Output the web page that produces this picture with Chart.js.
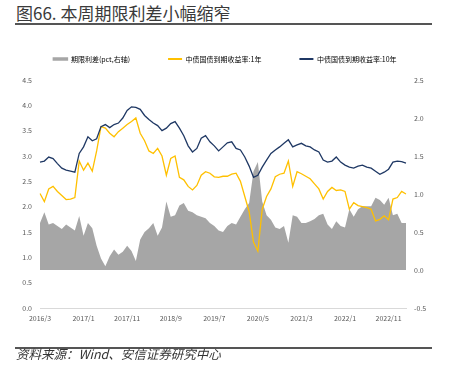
<!DOCTYPE html>
<html>
<head>
<meta charset="utf-8">
<script src="https://cdn.jsdelivr.net/npm/chart.js@4.4.0/dist/chart.umd.min.js"></script>
<style>
    body { margin: 0; background: #fff; }
    #wrap { position: relative; width: 450px; height: 378px; overflow: hidden; font-family: "Noto Sans CJK SC", sans-serif; }
    .title { position: absolute; left: 16px; top: 3px; font-size: 17px; line-height: 20px; color: #3a3a3a; }
    .rule { position: absolute; left: 15px; width: 417px; height: 2px; background: #555; }
    .src { position: absolute; left: 16px; top: 346px; font-size: 12.5px; line-height: 16px; font-style: italic; color: #333; }
    canvas { position: absolute; left: 0; top: 0; }
</style>
</head>
<body>
<div id="wrap">
    <div class="title">图66. 本周期限利差小幅缩窄</div>
    <div class="rule" style="top:23px"></div>
    <canvas id="myChart" width="450" height="378"></canvas>
    <div class="rule" style="top:347px"></div>
    <div class="src">资料来源：Wind、安信证券研究中心</div>
</div>
<script>
'use strict'

// monthly points, 2016/3 .. 2023/3
var months = [];
for (var yr = 2016, mo = 3; months.length < 85; mo++) {
    if (mo > 12) { mo = 1; yr++; }
    months.push(yr + '/' + mo);
}

var tickLabels = ['2016/3', '2017/1', '2017/11', '2018/9', '2019/7', '2020/5', '2021/3', '2022/1', '2022/11'];

// 中债国债到期收益率:10年
var y10 = [2.88, 2.90, 2.98, 2.95, 2.85, 2.76, 2.72, 2.70, 2.68, 3.05,
    3.18, 3.38, 3.30, 3.34, 3.58, 3.62, 3.56, 3.62, 3.65, 3.75,
    3.90, 3.97, 3.96, 3.92, 3.80, 3.72, 3.65, 3.60, 3.50, 3.55,
    3.64, 3.68, 3.55, 3.40, 3.20, 3.08, 3.15, 3.35, 3.40, 3.28,
    3.20, 3.10, 3.18, 3.26, 3.28, 3.15, 3.12, 2.98, 2.80, 2.58,
    2.62, 2.78, 2.92, 3.05, 3.12, 3.18, 3.25, 3.32, 3.18, 3.22,
    3.25, 3.20, 3.18, 3.12, 3.08, 2.92, 2.88, 2.90, 2.98, 2.88,
    2.82, 2.78, 2.76, 2.80, 2.82, 2.78, 2.76, 2.70, 2.64, 2.68,
    2.74, 2.88, 2.90, 2.89, 2.86];

// 中债国债到期收益率:1年
var y1 = [2.26, 2.10, 2.35, 2.40, 2.30, 2.22, 2.14, 2.15, 2.18, 2.90,
    2.72, 2.86, 2.70, 3.10, 3.58, 3.55, 3.45, 3.38, 3.48, 3.55,
    3.62, 3.68, 3.75, 3.45, 3.30, 3.10, 3.05, 3.15, 3.00, 2.62,
    2.95, 3.00, 2.58, 2.53, 2.40, 2.33, 2.42, 2.62, 2.69, 2.66,
    2.59, 2.58, 2.60, 2.60, 2.64, 2.66, 2.50, 2.20, 1.90, 1.30,
    1.12, 1.95, 2.20, 2.35, 2.59, 2.64, 2.66, 2.90, 2.40, 2.69,
    2.65, 2.60, 2.55, 2.45, 2.35, 2.15, 2.30, 2.38, 2.32, 2.33,
    2.30, 1.95, 2.08, 2.02, 2.00, 1.98, 1.95, 1.72, 1.75, 1.82,
    1.74, 2.15, 2.18, 2.30, 2.25];

// 期限利差 (pct, right axis)
var spread = [0.62, 0.76, 0.60, 0.62, 0.58, 0.54, 0.60, 0.56, 0.52, 0.71,
    0.45, 0.62, 0.55, 0.32, 0.15, 0.05, 0.18, 0.27, 0.20, 0.24,
    0.32, 0.25, 0.12, 0.40, 0.50, 0.55, 0.62, 0.45, 0.56, 0.90,
    0.70, 0.72, 0.85, 0.88, 0.78, 0.76, 0.72, 0.70, 0.68, 0.62,
    0.58, 0.52, 0.50, 0.58, 0.62, 0.60, 0.70, 0.80, 0.88, 1.30,
    1.42, 0.90, 0.72, 0.66, 0.56, 0.54, 0.58, 0.36, 0.72, 0.70,
    0.62, 0.62, 0.64, 0.67, 0.72, 0.74, 0.60, 0.54, 0.64, 0.58,
    0.56, 0.80, 0.70, 0.80, 0.84, 0.84, 0.84, 0.95, 0.92, 0.86,
    0.95, 0.72, 0.74, 0.62, 0.62];

var tickFont = { family: '"Noto Sans CJK SC", sans-serif', size: 7 };

var ctx = document.getElementById('myChart').getContext('2d');
var myChart = new Chart(ctx, {
    type: 'line',
    data: {
        labels: months,
        datasets: [{
            label: '期限利差(pct,右轴)',
            data: spread,
            yAxisID: 'y1',
            fill: 'origin',
            backgroundColor: '#a6a6a6',
            borderColor: '#a6a6a6',
            borderWidth: 0,
            pointRadius: 0,
            order: 3
        }, {
            label: '中债国债到期收益率:1年',
            data: y1,
            yAxisID: 'y',
            fill: false,
            borderColor: '#ffc000',
            borderWidth: 1.3,
            pointRadius: 0,
            order: 2
        }, {
            label: '中债国债到期收益率:10年',
            data: y10,
            yAxisID: 'y',
            fill: false,
            borderColor: '#1f3864',
            borderWidth: 1.3,
            pointRadius: 0,
            order: 1
        }]
    },
    options: {
        responsive: false,
        animation: false,
        layout: { padding: { top: 17.5, left: 0, right: 0, bottom: 50 } },
        plugins: {
            tooltip: { enabled: false },
            legend: {
                labels: {
                    boxWidth: 14,
                    boxHeight: 2,
                    padding: 38,
                    color: '#595959',
                    font: tickFont,
                    generateLabels: function (chart) {
                        return chart.data.datasets.map(function (ds, i) {
                            return {
                                text: ds.label,
                                fillStyle: ds.borderColor,
                                strokeStyle: ds.borderColor,
                                lineWidth: i === 0 ? 1.5 : 0,
                                datasetIndex: i,
                                hidden: false
                            };
                        });
                    }
                }
            },
            // empty spacer between legend and plot
            title: { display: true, text: ' ', weight: 500, padding: 0, font: { size: 7, lineHeight: '7.5px' } }
        },
        scales: {
            x: {
                grid: { display: false, drawTicks: false },
                border: { display: true, color: '#d9d9d9', width: 1 },
                ticks: {
                    autoSkip: false,
                    maxRotation: 0,
                    padding: 6,
                    color: '#595959',
                    font: tickFont,
                    callback: function (v) {
                        var l = this.getLabelForValue(v);
                        return tickLabels.indexOf(l) >= 0 ? l : '';
                    }
                },
                afterFit: function (s) { s.height = 20; }
            },
            y: {
                position: 'left',
                min: 0,
                max: 4.5,
                grid: { display: false, drawTicks: false },
                border: { display: false },
                ticks: {
                    stepSize: 0.5,
                    padding: 8,
                    color: '#595959',
                    font: tickFont,
                    callback: function (v) { return v.toFixed(1); }
                },
                afterFit: function (s) { s.width = 40; }
            },
            y1: {
                position: 'right',
                min: -0.5,
                max: 2.5,
                grid: { display: false, drawTicks: false },
                border: { display: false },
                ticks: {
                    stepSize: 0.5,
                    padding: 8,
                    color: '#595959',
                    font: tickFont,
                    callback: function (v) { return v.toFixed(1); }
                },
                afterFit: function (s) { s.width = 44; }
            }
        }
    }
});
</script>
</body>
</html>
